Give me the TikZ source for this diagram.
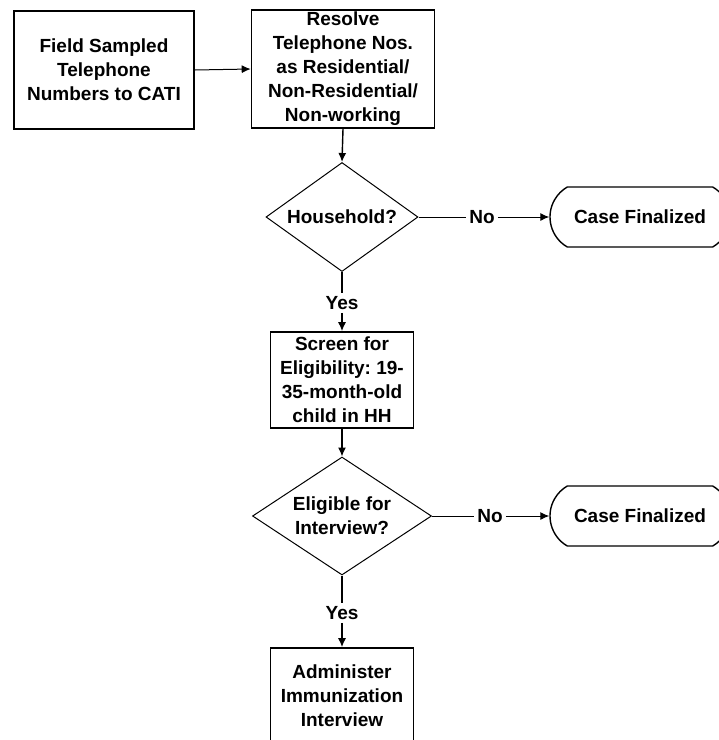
\documentclass[tikz,border=0pt]{standalone}
\usepackage{fontspec}
\setmainfont{Liberation Sans}
\usetikzlibrary{shapes.geometric}
\usetikzlibrary{shapes.misc}
\usetikzlibrary{arrows.meta}

\begin{document}
\frenchspacing
\begin{tikzpicture}[
            x=1pt, y=-1pt,
            every node/.style={font=\bfseries\fontsize{19}{24}\selectfont, align=center, inner sep=0pt},
            stepbox/.style={draw, line width=1.6pt, rectangle},
            decision/.style={draw, line width=1pt, diamond, aspect=1.4},
            terminal/.style={draw, line width=1.4pt, rounded rectangle, rounded rectangle arc length=120,
                minimum width=180, minimum height=60},
            lbl/.style={inner sep=3pt},
            flow/.style={line width=1.4pt, -{Latex[length=9pt, width=8pt]}},
            wire/.style={line width=1.4pt},
        ]
            \useasboundingbox (0,0) rectangle (719,740);

            % main column of steps
            \node[stepbox, minimum width=180, minimum height=118] (field) at (104,70)
                {Field Sampled\\Telephone\\Numbers to CATI};
            \node[stepbox, minimum width=183, minimum height=118] (resolve) at (343,69)
                {Resolve\\Telephone Nos.\\as Residential/\\Non-Residential/\\Non-working};
            \node[decision, minimum width=152, minimum height=109] (hh) at (342,217) {Household?};
            \node[stepbox, minimum width=143, minimum height=96] (screen) at (342,380)
                {Screen for\\Eligibility: 19-\\35-month-old\\child in HH};
            \node[decision, aspect=1.5, minimum width=179, minimum height=118] (elig) at (342,516)
                {Eligible for\\Interview?};
            \node[stepbox, minimum width=143, minimum height=96] (admin) at (342,696)
                {Administer\\Immunization\\Interview};

            % exits
            \node[terminal] (fin1) at (640,217) {Case Finalized};
            \node[terminal] (fin2) at (640,516) {Case Finalized};

            % branch labels
            \node[lbl] (no1) at (482,217) {No};
            \node[lbl] (no2) at (490,516) {No};
            \node[lbl] (yes1) at (342,303) {Yes};
            \node[lbl] (yes2) at (342,613) {Yes};

            % connectors
            \draw[flow, line width=1pt] (field.east) -- (resolve.west);
            \draw[flow] (resolve.south) -- (hh.north);
            \draw[wire, line width=1pt] (hh.east) -- (no1.west);
            \draw[flow, line width=1pt] (no1.east) -- (fin1.west);
            \draw[wire] (hh.south) -- (yes1.north);
            \draw[flow] (yes1.south) -- (screen.north);
            \draw[flow] (screen.south) -- (elig.north);
            \draw[wire, line width=1pt] (elig.east) -- (no2.west);
            \draw[flow, line width=1pt] (no2.east) -- (fin2.west);
            \draw[wire] (elig.south) -- (yes2.north);
            \draw[flow] (yes2.south) -- (admin.north);
        \end{tikzpicture}
\end{document}
